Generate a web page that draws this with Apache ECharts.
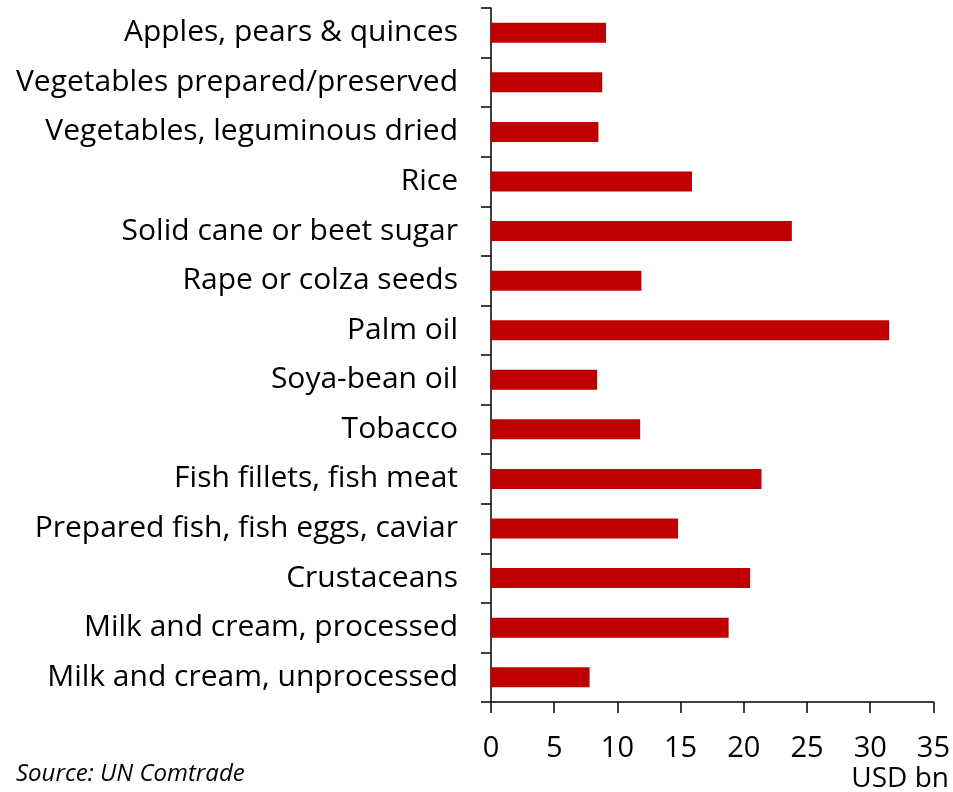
<!DOCTYPE html>
<html>
<head>
<meta charset="utf-8">
<script src="https://cdn.jsdelivr.net/npm/echarts@6/dist/echarts.min.js"></script>
<style>
  html, body { margin: 0; padding: 0; background: #ffffff; }
  #chart { width: 953px; height: 792px; }
</style>
</head>
<body>
<div id="chart"></div>
<script>
// Product groups, listed top to bottom
const categories = [
  'Apples, pears & quinces',
  'Vegetables prepared/preserved',
  'Vegetables, leguminous dried',
  'Rice',
  'Solid cane or beet sugar',
  'Rape or colza seeds',
  'Palm oil',
  'Soya-bean oil',
  'Tobacco',
  'Fish fillets, fish meat',
  'Prepared fish, fish eggs, caviar',
  'Crustaceans',
  'Milk and cream, processed',
  'Milk and cream, unprocessed'
];

// Import values, USD bn
const values = [9.1, 8.8, 8.5, 15.9, 23.8, 11.9, 31.5, 8.4, 11.8, 21.4, 14.8, 20.5, 18.8, 7.8];

const xTicks = { min: 0, max: 35, interval: 5 };

const fontFamily = '"Open Sans", Lato, sans-serif';

const chart = echarts.init(document.getElementById('chart'));
chart.setOption({
  animation: false,
  backgroundColor: '#ffffff',
  grid: { left: 491, top: 8, right: 19, bottom: 90, containLabel: false },
  xAxis: {
    type: 'value',
    min: xTicks.min,
    max: xTicks.max,
    interval: xTicks.interval,
    splitLine: { show: false },
    axisLine: { show: true, lineStyle: { color: '#000', width: 1.5 } },
    axisTick: { show: true, inside: false, length: 11, lineStyle: { color: '#000', width: 1.5 } },
    axisLabel: { color: '#000', fontSize: 29, fontFamily: fontFamily, margin: 32 }
  },
  yAxis: {
    type: 'category',
    data: categories,
    inverse: true,
    axisLine: { show: true, lineStyle: { color: '#000', width: 1.5 } },
    axisTick: { show: true, inside: false, length: 10, lineStyle: { color: '#000', width: 1.5 } },
    axisLabel: { color: '#000', fontSize: 30, fontFamily: fontFamily, margin: 33, padding: [5, 0, 0, 0] }
  },
  series: [{
    type: 'bar',
    data: values,
    barWidth: 20,
    itemStyle: { color: '#C00000' }
  }],
  graphic: [
    {
      type: 'text',
      right: 4,
      top: 765,
      style: { text: 'USD bn', fill: '#000', font: '28px ' + fontFamily, textAlign: 'right' }
    },
    {
      type: 'text',
      left: 16,
      top: 762,
      style: { text: 'Source: UN Comtrade', fill: '#000', font: 'italic 24px ' + fontFamily }
    }
  ]
});
</script>
</body>
</html>
